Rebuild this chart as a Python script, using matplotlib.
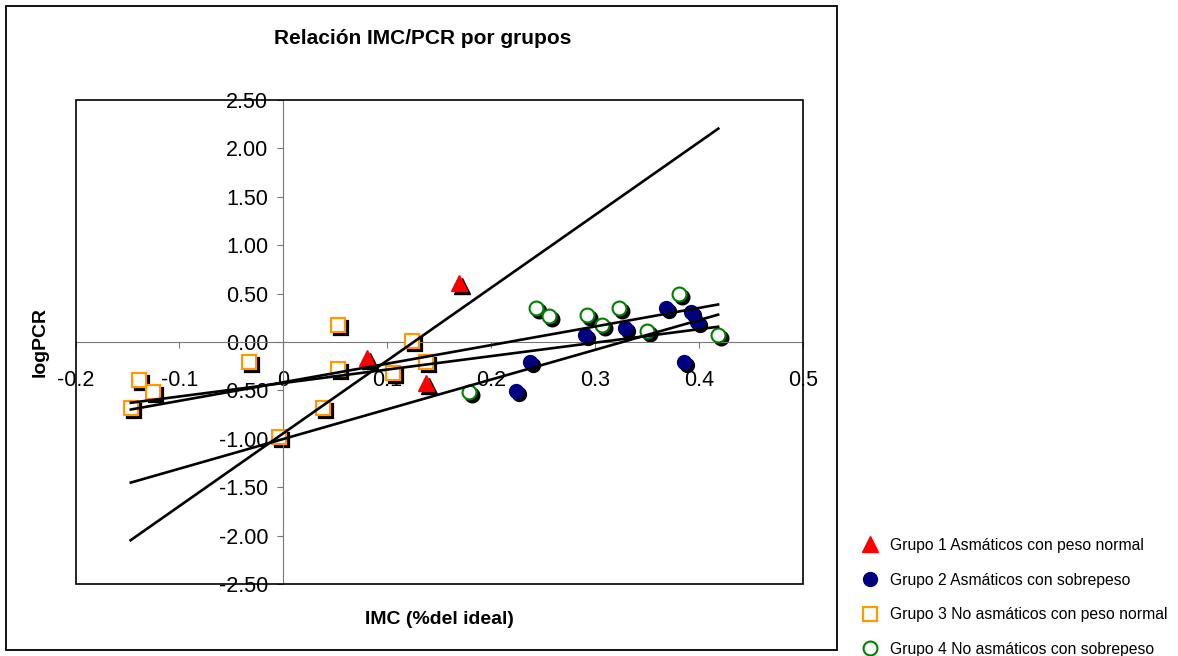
# Relación IMC/PCR por grupos - scatter with trend lines (Excel style)

import matplotlib
matplotlib.use('Agg')
import matplotlib.pyplot as plt
import matplotlib.transforms as mtransforms
from matplotlib.patches import Rectangle

plt.rcParams['font.family'] = ['Liberation Sans', 'DejaVu Sans']

# Data
g1_x = [0.080, 0.137, 0.169]
g1_y = [-0.17, -0.42, 0.61]

g2_x = [0.290, 0.329, 0.368, 0.392, 0.398, 0.385, 0.2375, 0.224]
g2_y = [0.07, 0.14, 0.355, 0.307, 0.21, -0.21, -0.21, -0.51]

g3_x = [0.053, -0.033, -0.139, -0.125, -0.147, 0.053, 0.124, 0.105, 0.137, 0.038, -0.004]
g3_y = [0.176, -0.21, -0.39, -0.52, -0.685, -0.28, 0.01, -0.317, -0.21, -0.685, -0.98]

g4_x = [0.243, 0.256, 0.292, 0.307, 0.323, 0.3805, 0.350, 0.418, 0.179]
g4_y = [0.355, 0.272, 0.279, 0.176, 0.348, 0.496, 0.117, 0.072, -0.52]

# trend lines (slope, intercept) and their x span
trend_slopes = [7.52, 3.07, 1.92, 1.39]
trend_intercepts = [-0.943, -1.002, -0.416, -0.424]
trend_x = [-0.148, 0.4195]

labels = ['Grupo 1 Asmáticos con peso normal',
          'Grupo 2 Asmáticos con sobrepeso',
          'Grupo 3 No asmáticos con peso normal',
          'Grupo 4 No asmáticos con sobrepeso']

x_ticks = [-0.2, -0.1, 0, 0.1, 0.2, 0.3, 0.4, 0.5]
x_tick_labels = ['-0.2', '-0.1', '0', '0.1', '0.2', '0.3', '0.4', '0.5']
y_ticks = [2.5, 2.0, 1.5, 1.0, 0.5, 0.0, -0.5, -1.0, -1.5, -2.0, -2.5]
y_tick_labels = ['2.50', '2.00', '1.50', '1.00', '0.50', '0.00',
                 '-0.50', '-1.00', '-1.50', '-2.00', '-2.50']

fig = plt.figure(figsize=(11.78, 6.56), dpi=100)
ax = fig.add_axes([0.0641, 0.1098, 0.6176, 0.7378])

# shadow transform (a few pixels right and down)
shadow = mtransforms.offset_copy(ax.transData, fig=fig, x=3, y=-3, units='dots')

styles = [
    (g1_x, g1_y, dict(marker='^', ms=11.5, mfc='#FF0000', mec='#FF0000', mew=1)),
    (g2_x, g2_y, dict(marker='o', ms=10, mfc='#000080', mec='#000080', mew=1)),
    (g3_x, g3_y, dict(marker='s', ms=9.5, mfc='white', mec='#FF9900', mew=1.6)),
    (g4_x, g4_y, dict(marker='o', ms=10, mfc='white', mec='#008000', mew=1.5)),
]

handles = []
for (xs, ys, st), lab in zip(styles, labels):
    ax.plot(xs, ys, ls='none', marker=st['marker'], ms=st['ms'],
            mfc='black', mec='black', mew=st['mew'], transform=shadow, zorder=2)
    h, = ax.plot(xs, ys, ls='none', label=lab, zorder=3, **st)
    handles.append(h)

# trend lines drawn on top of the markers
for m, b in zip(trend_slopes, trend_intercepts):
    ax.plot(trend_x, [m * trend_x[0] + b, m * trend_x[1] + b],
            color='black', lw=1.9, zorder=4, solid_capstyle='butt')

ax.set_xlim(-0.2, 0.5)
ax.set_ylim(-2.5, 2.5)

# axes cross at zero
ax.spines['left'].set_position(('data', 0))
ax.spines['bottom'].set_position(('data', 0))
ax.spines['left'].set_color('#777777')
ax.spines['bottom'].set_color('#777777')
ax.spines['top'].set_visible(False)
ax.spines['right'].set_visible(False)
ax.add_patch(Rectangle((0, 0), 1, 1, transform=ax.transAxes, fill=False,
                       ec='black', lw=1.2, clip_on=False, zorder=5))

ax.set_xticks(x_ticks)
ax.set_xticklabels(x_tick_labels)
ax.set_yticks(y_ticks)
ax.set_yticklabels(y_tick_labels)
ax.tick_params(axis='x', direction='out', length=4, color='#777777',
               labelsize=15.5, pad=16)
ax.tick_params(axis='y', direction='out', length=4, color='#777777',
               labelsize=15.5, pad=7)

# texts
fig.text(0.359, 0.942, 'Relación IMC/PCR por grupos', ha='center', va='center',
         fontsize=15, fontweight='bold')
fig.text(0.034, 0.479, 'logPCR', ha='center', va='center', rotation=90,
         fontsize=14, fontweight='bold')
fig.text(0.3727, 0.0564, 'IMC (%del ideal)', ha='center', va='center',
         fontsize=14, fontweight='bold')

# outer chart border
fig.add_artist(Rectangle((0.0051, 0.0091), 0.7054, 0.9817, transform=fig.transFigure,
                         fill=False, ec='black', lw=1.3))

fig.legend(handles=handles, loc='upper left', bbox_to_anchor=(0.7323, 0.180),
           frameon=False, fontsize=11.3, handlelength=1.0, handletextpad=0.75,
           labelspacing=1.25, borderpad=0, borderaxespad=0, numpoints=1,
           markerscale=1.0)

fig.savefig('out.png', dpi=100)
